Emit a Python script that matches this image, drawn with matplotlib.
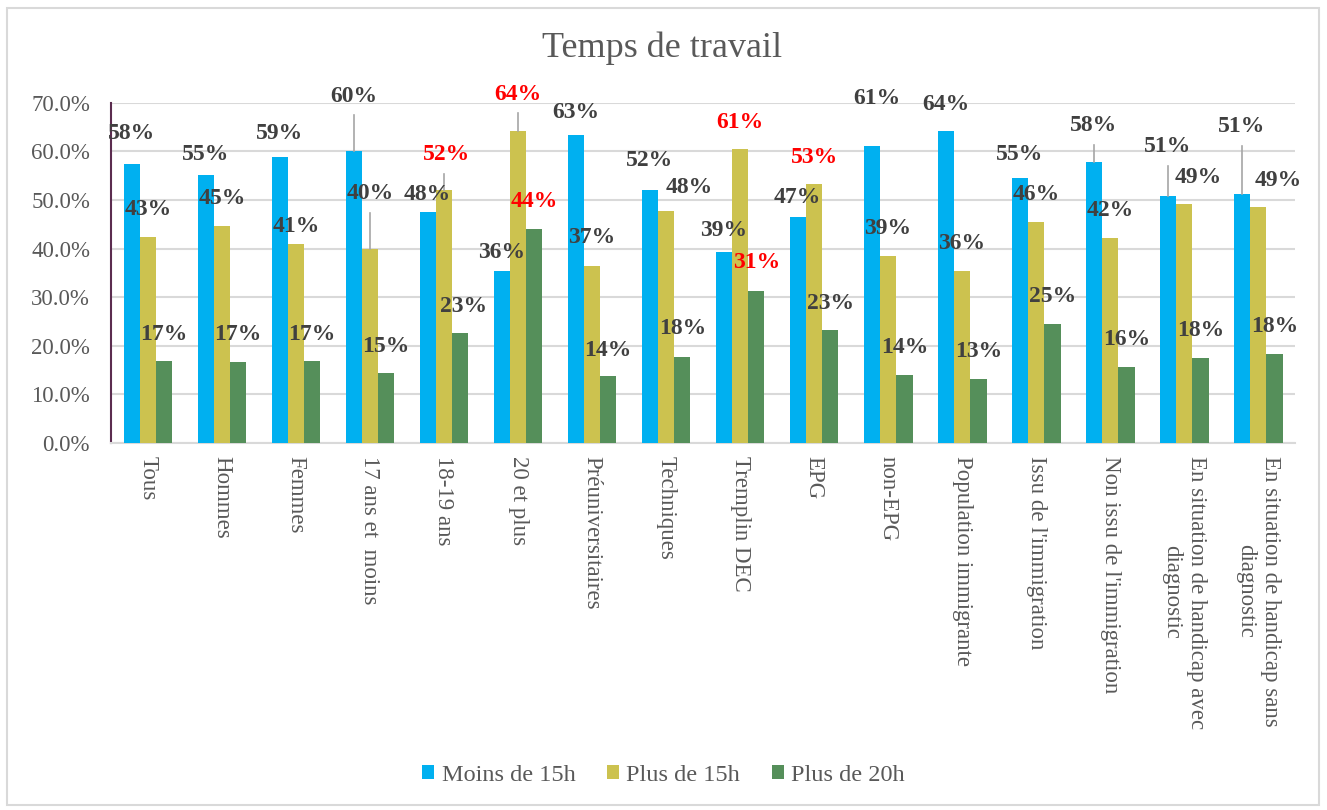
"""
Temps de travail - grouped bars
"""

import numpy as np
import matplotlib.pyplot as plt
from matplotlib.patches import Rectangle

# ---------- data ----------
categories = ["Tous", "Hommes", "Femmes", "17 ans et  moins", "18-19 ans", "20 et plus",
              "Préuniversitaires", "Techniques", "Tremplin DEC", "EPG", "non-EPG",
              "Population immigrante", "Issu de l'immigration", "Non issu de l'immigration",
              "En situation de handicap avec\ndiagnostic",
              "En situation de handicap sans\ndiagnostic"]
series_names = ["Moins de 15h", "Plus de 15h", "Plus de 20h"]

moins_15h = [57.5, 55.2, 58.9, 60.0, 47.6, 35.5, 63.3, 52.1, 39.3, 46.5, 61.1, 64.3, 54.5, 57.9, 50.8, 51.3]
plus_15h = [42.5, 44.7, 40.9, 39.9, 52.1, 64.3, 36.5, 47.7, 60.5, 53.3, 38.5, 35.5, 45.5, 42.1, 49.2, 48.5]
plus_20h = [16.9, 16.7, 16.9, 14.5, 22.7, 44.0, 13.7, 17.8, 31.2, 23.3, 14.1, 13.2, 24.6, 15.7, 17.5, 18.4]

# label positions (y of label centre, in %), set by hand in the original
lab_y_moins = [63.8, 59.3, 63.8, 71.4, 51.1, 39.2, 68.0, 58.1, 43.7, 50.6, 70.8, 69.7, 59.3, 65.3, 61.0, 65.1]
lab_y_plus15 = [48.0, 50.4, 44.5, 51.3, 59.3, 71.8, 42.2, 52.6, 65.9, 58.8, 44.1, 41.0, 51.1, 47.8, 54.7, 54.0]
lab_y_plus20 = [22.4, 22.4, 22.4, 19.8, 28.2, 49.7, 19.1, 23.5, 37.1, 28.8, 19.6, 18.8, 30.1, 21.3, 23.1, 23.9]
# small horizontal shifts of a few labels
lab_dx_moins = [0, 0, 0, 0, 0, 0, 0, 0, 0, 0, 0.07, 0, 0, 0, 0, 0]
lab_dx_plus15 = [0, 0, 0, 0, 0.04, 0, 0, 0.31, 0, 0, 0, 0, 0, 0, 0.19, 0.27]
lab_dx_plus20 = [0, 0, 0, 0, 0.04, 0, 0, 0, 0, 0, 0, 0, 0, 0, 0, 0]
# labels shown in red
red_plus15 = [4, 5, 8, 9]
red_plus20 = [5, 8]
# labels with a leader line down to the bar
leader_moins = [3, 13, 14, 15]
leader_plus15 = [3, 4, 5]

colors = ["#00B0F0", "#CCC24F", "#558F5A"]
text_gray = "#595959"
label_gray = "#404040"

plt.rcParams['font.family'] = ['Liberation Serif', 'DejaVu Serif']

# ---------- plot ----------
fig = plt.figure(figsize=(13.27, 8.10), dpi=100)
ax = fig.add_axes([0.0836, 0.453, 0.8924, 0.420])

x = np.arange(len(categories))
w = 0.22
values = [moins_15h, plus_15h, plus_20h]
lab_ys = [lab_y_moins, lab_y_plus15, lab_y_plus20]
lab_dxs = [lab_dx_moins, lab_dx_plus15, lab_dx_plus20]
reds = [[], red_plus15, red_plus20]
leaders = [leader_moins, leader_plus15, []]

for k in range(3):
    xs = x + (k - 1) * w
    ax.bar(xs, values[k], width=w, color=colors[k], label=series_names[k], zorder=3)
    for i, v in enumerate(values[k]):
        col = "red" if i in reds[k] else label_gray
        ly = lab_ys[k][i]
        ax.text(xs[i] + lab_dxs[k][i], ly, f"{int(np.floor(v + 0.5))}%", ha="center", va="center",
                fontsize=17, fontweight="bold", color=col, zorder=5)
        if i in leaders[k]:
            ax.plot([xs[i], xs[i]], [ly - 3.9, v], color="#A6A6A6", lw=1.2, zorder=4)

ax.set_xlim(-0.5, len(categories) - 0.5)
ax.set_ylim(0, 70)
ax.set_yticks(np.arange(0, 71, 10))
ax.set_yticklabels([f"{t:.1f}%" for t in np.arange(0, 71, 10)])
ax.yaxis.grid(True, color="#D9D9D9", lw=1.5, zorder=0)
ax.set_axisbelow(True)

ax.set_xticks(x)
ax.set_xticklabels(categories, rotation=-90, ha="center", va="top",
                   multialignment="center")
ax.tick_params(axis="x", length=0, pad=9, labelsize=16.5, labelcolor=text_gray)
ax.tick_params(axis="y", length=0, pad=15, labelsize=16.5, labelcolor=text_gray)

for s in ["top", "right"]:
    ax.spines[s].set_visible(False)
ax.spines["left"].set_color("#5B2C4F")
ax.spines["left"].set_linewidth(1.5)
ax.spines["bottom"].set_color("#D9D9D9")
ax.spines["bottom"].set_linewidth(1.5)

fig.text(0.499, 0.94, "Temps de travail", ha="center", va="center",
         fontsize=26, color=text_gray)

fig.legend(loc="center", bbox_to_anchor=(0.5, 0.043), ncol=3, frameon=False,
           fontsize=17.5, handlelength=0.5, handleheight=0.5, handletextpad=0.3,
           columnspacing=1.3, labelcolor=text_gray)

# outer chart border
fig.patches.append(Rectangle((0.005, 0.006), 0.989, 0.984, transform=fig.transFigure,
                             fill=False, edgecolor="#D9D9D9", lw=1.5))

fig.savefig("out.png", dpi=100)
